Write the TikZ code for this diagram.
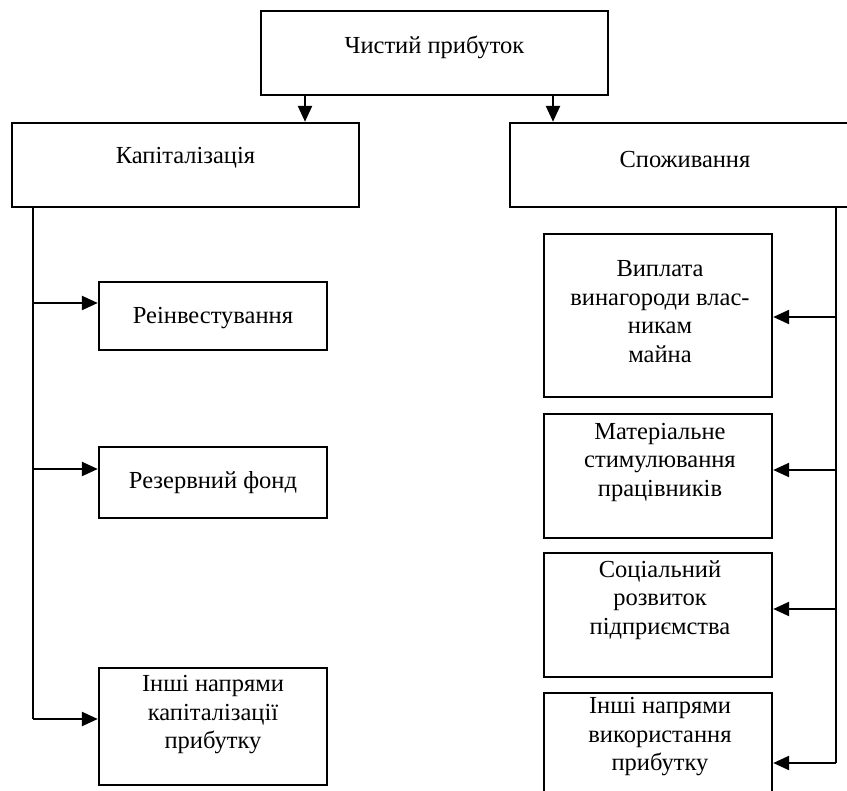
\documentclass[tikz,border=0pt]{standalone}
\usepackage{fontspec}
\setmainfont{Liberation Serif}
\usetikzlibrary{arrows.meta}
\begin{document}
\begin{tikzpicture}[x=1pt,y=-1pt,
  box/.style={draw,line width=2.4pt,inner sep=0pt},
  lbl/.style={align=center,font=\fontsize{24.5}{28.5}\selectfont,inner sep=0pt},
  wire/.style={line width=2.4pt},
  conn/.style={line width=2.4pt,-{Triangle[length=16pt,width=14pt]}}]
\useasboundingbox (0,0) rectangle (847,791);

% main level
\node[box,minimum width=347pt,minimum height=84pt] (top) at (434.5,53) {};
\node[lbl] (ttop) at (434.5,47) {Чистий прибуток};
\node[box,minimum width=347pt,minimum height=84pt] (lft) at (185.5,165) {};
\node[lbl] (tlft) at (185.5,158) {Капіталізація};
\node[box,minimum width=360pt,minimum height=84pt] (rgt) at (690,165) {};
\node[lbl] (trgt) at (685,160) {Споживання};

% capitalisation branches
\node[box,minimum width=228pt,minimum height=68pt] (r1) at (213,316) {};
\node[lbl] (tr1) at (213,318) {Реінвестування};
\node[box,minimum width=228pt,minimum height=71pt] (r2) at (213,482.5) {};
\node[lbl] (tr2) at (213,483) {Резервний фонд};
\node[box,minimum width=228pt,minimum height=117pt] (r3) at (213,726.5) {};
\node[lbl] (tr3) at (213,715) {Інші напрями\\капіталізації\\прибутку};

% consumption branches
\node[box,minimum width=228pt,minimum height=163pt] (b1) at (658,315.5) {};
\node[lbl] (tb1) at (660,311.5) {Виплата\\винагороди влас-\\никам\\майна};
\node[box,minimum width=228pt,minimum height=124pt] (b2) at (658,476) {};
\node[lbl] (tb2) at (660,462) {Матеріальне\\стимулювання\\працівників};
\node[box,minimum width=228pt,minimum height=124pt] (b3) at (658,615) {};
\node[lbl] (tb3) at (660,600) {Соціальний\\розвиток\\підприємства};
\node[box,minimum width=228pt,minimum height=120pt] (b4) at (658,753) {};
\node[lbl] (tb4) at (660,737) {Інші напрями\\використання\\прибутку};

% connector guides
\coordinate (a1) at (305,0);
\coordinate (a2) at (553,0);
\coordinate (ls) at (33,0);
\coordinate (rs) at (836,0);
\coordinate (r1in) at ([yshift=13pt]r1.west);
\coordinate (r2in) at ([yshift=13.5pt]r2.west);
\coordinate (r3in) at ([yshift=7.5pt]r3.west);
\coordinate (b1in) at ([yshift=-1.5pt]b1.east);
\coordinate (b2in) at ([yshift=6pt]b2.east);
\coordinate (b3in) at ([yshift=6pt]b3.east);
\coordinate (b4in) at ([yshift=-10pt]b4.east);

% connectors
\draw[conn] (top.south -| a1) -- (lft.north -| a1);
\draw[conn] (top.south -| a2) -- (rgt.north -| a2);

\draw[wire] (lft.south -| ls) -- (ls |- r3in);
\draw[conn] (ls |- r1in) -- (r1in);
\draw[conn] (ls |- r2in) -- (r2in);
\draw[conn] (ls |- r3in) -- (r3in);

\draw[wire] (rgt.south -| rs) -- (rs |- b4in);
\draw[conn] (rs |- b1in) -- (b1in);
\draw[conn] (rs |- b2in) -- (b2in);
\draw[conn] (rs |- b3in) -- (b3in);
\draw[conn] (rs |- b4in) -- (b4in);
\end{tikzpicture}
\end{document}
